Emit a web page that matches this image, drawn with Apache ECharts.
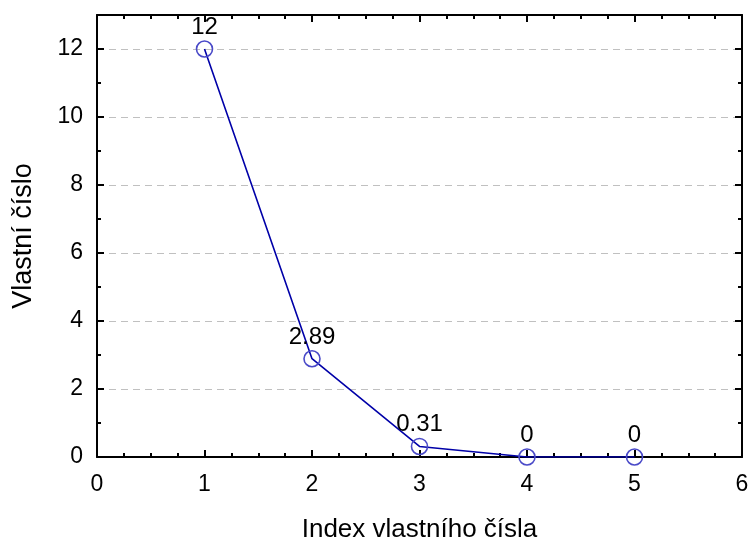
<!DOCTYPE html>
<html><head><meta charset="utf-8">
<script src="https://cdn.jsdelivr.net/npm/echarts@6/dist/echarts.min.js"></script>
<style>html,body{margin:0;padding:0;background:#fff}#c{width:749px;height:542px}</style>
</head><body><div id="c"></div>
<script>
const xValues = [1, 2, 3, 4, 5];
const yValues = [12, 2.89, 0.31, 0, 0];
const labels = ['12', '2.89', '0.31', '0', '0'];
const xTitle = 'Index vlastního čísla';
const yTitle = 'Vlastní číslo';

const font = '"Liberation Sans", Arial, sans-serif';
const chart = echarts.init(document.getElementById('c'), null, {renderer: 'canvas'});
const axisLine = {show: true, onZero: false, lineStyle: {color: '#000', width: 2}};
const tickX = {show: true, inside: true, length: 7, lineStyle: {color: '#000', width: 2}};
const minorX = {show: true, splitNumber: 4, length: 4, lineStyle: {color: '#000', width: 2}};
const minorY = {show: true, splitNumber: 2, length: 4, lineStyle: {color: '#000', width: 2}};
chart.setOption({
  animation: false,
  grid: {left: 97, right: 7, top: 15, bottom: 85, containLabel: false, outerBoundsMode: 'none'},
  xAxis: [{
    type: 'value', min: 0, max: 6, interval: 1,
    axisLine: axisLine, axisTick: tickX, minorTick: minorX,
    splitLine: {show: false},
    axisLabel: {color: '#000', fontSize: 23, fontFamily: font, margin: 16},
    name: xTitle, nameLocation: 'middle', nameGap: 60,
    nameTextStyle: {color: '#000', fontSize: 26, fontFamily: font}
  }, {
    type: 'value', position: 'top', min: 0, max: 6, interval: 1,
    axisLine: axisLine, axisTick: tickX, minorTick: minorX,
    splitLine: {show: false}, axisLabel: {show: false}
  }],
  yAxis: [{
    type: 'value', min: 0, max: 13, interval: 2,
    axisLine: axisLine, axisTick: tickX, minorTick: minorY,
    splitLine: {show: true, lineStyle: {color: '#c0c0c0', type: [7, 5], width: 1}},
    axisLabel: {color: '#000', fontSize: 23, fontFamily: font, margin: 14,
      showMaxLabel: false},
    name: yTitle, nameLocation: 'middle', nameGap: 60,
    nameTextStyle: {color: '#000', fontSize: 27, fontFamily: font}
  }, {
    type: 'value', position: 'right', min: 0, max: 13, interval: 2,
    axisLine: axisLine, axisTick: tickX, minorTick: minorY,
    splitLine: {show: false}, axisLabel: {show: false}
  }],
  series: [{
    type: 'line',
    data: xValues.map((x, i) => [x, yValues[i]]),
    symbol: 'circle', symbolSize: 16, showAllSymbol: true,
    lineStyle: {color: '#0000a8', width: 1.6},
    itemStyle: {color: 'rgba(255,255,255,0)', borderColor: '#4a4ac8', borderWidth: 1.6},
    label: {show: true, position: 'top', distance: 1, color: '#000', fontSize: 24,
      fontFamily: font, formatter: p => labels[p.dataIndex]},
    z: 5
  }]
});
</script></body></html>
